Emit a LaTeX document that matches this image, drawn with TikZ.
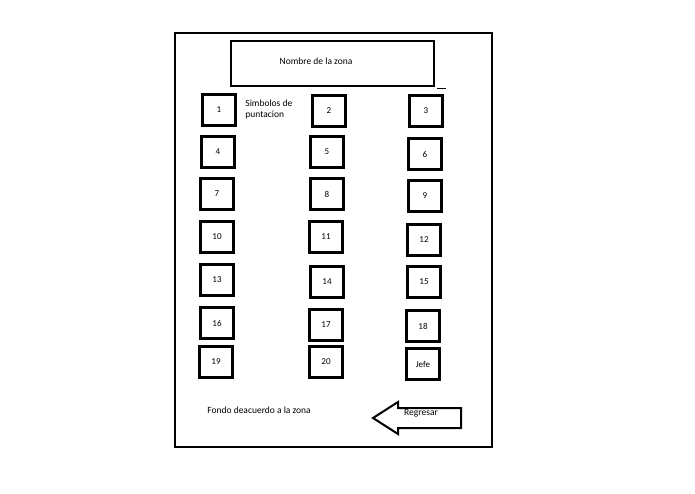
\documentclass[tikz,border=0pt]{standalone}
\usepackage{fontspec}
\setmainfont{Carlito}
\begin{document}
\begin{tikzpicture}[x=1pt,y=-1pt,thick,
  seat/.style={draw,line width=2.4pt,minimum width=33pt,minimum height=31pt,inner sep=0pt,font=\fontsize{9}{10}\selectfont},
  txt/.style={font=\fontsize{9.5}{11}\selectfont,inner sep=0pt}]
  \useasboundingbox (0,0) rectangle (695,494);
  \node[draw,line width=2pt,minimum width=317pt,minimum height=414pt,anchor=north west] (marco) at (174,32) {};
  \node[draw,line width=2pt,minimum width=203pt,minimum height=45pt,anchor=north west] (titulo) at (230,40) {};
  \node[txt] at (316,61) {Nombre de la zona};
  \draw (340,86) -- (349,86);
  \draw (437,88) -- (446,88);
  % asientos
  \foreach \n/\x/\y in {1/219/110,2/329/111,3/426/111,4/218/152,5/327/152,6/425/154,
    7/217/194,8/327/194,9/425/196,10/217/237,11/326/237,12/424/240,
    13/217/280,14/327/282,15/424/282,16/217/323,17/326/325,18/423/326,
    19/216/362,20/326/362,Jefe/423/364}
    \node[seat] (s\n) at (\x,\y) {\n};
  \node[txt,align=left,anchor=north west] (simbolos) at (245,100) {Simbolos de\\puntacion};
  \node[txt,anchor=west] (fondo) at (207,410) {Fondo deacuerdo a la zona};
  % flecha regresar
  \draw[line width=2pt] (373,418) -- (398,402) -- (398,408) -- (461,408) -- (461,428) -- (398,428) -- (398,434) -- cycle;
  \node[txt] (regresar) at (421,413) {Regresar};
\end{tikzpicture}
\end{document}
